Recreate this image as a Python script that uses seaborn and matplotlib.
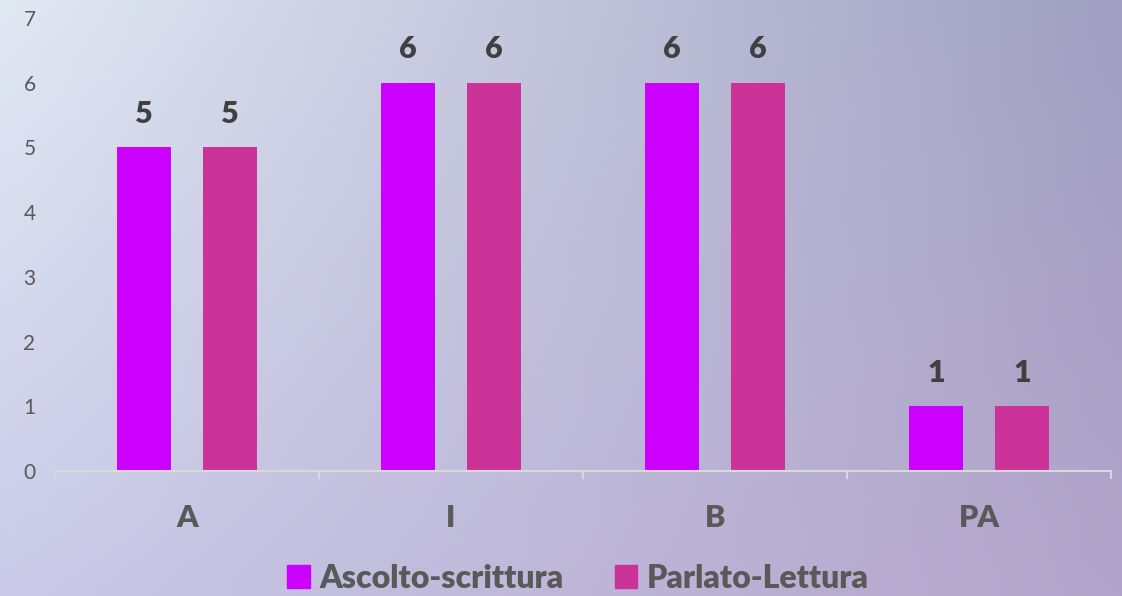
import numpy as np
import pandas as pd
import matplotlib
matplotlib.use("Agg")
import matplotlib.pyplot as plt
from matplotlib.ticker import FixedLocator
import seaborn as sns

categories = ["A", "I", "B", "PA"]
series_names = ["Ascolto-scrittura", "Parlato-Lettura"]
ascolto_scrittura = [5, 6, 6, 1]
parlato_lettura = [5, 6, 6, 1]
colors = ["#CC00FF", "#CC3399"]
y_ticks = [0, 1, 2, 3, 4, 5, 6, 7]

df = pd.DataFrame({
    "cat": categories * 2,
    "serie": [series_names[0]] * 4 + [series_names[1]] * 4,
    "val": ascolto_scrittura + parlato_lettura,
})

sns.set_theme(style="white")
plt.rcParams["font.family"] = ["Lato", "DejaVu Sans"]

fig = plt.figure(figsize=(11.22, 5.96), dpi=100)

# background gradient
bg = fig.add_axes([0, 0, 1, 1], zorder=-10)
tl = np.array([225, 233, 243]) / 255
tr = np.array([160, 159, 193]) / 255
bl = np.array([202, 202, 232]) / 255
br = np.array([178, 164, 202]) / 255
ny, nx = 60, 120
u = np.linspace(0, 1, nx)[None, :, None]
v = np.linspace(0, 1, ny)[:, None, None]
img = (1 - v) * ((1 - u) * tl + u * tr) + v * ((1 - u) * bl + u * br)
bg.imshow(img, aspect="auto", extent=[0, 1, 0, 1], interpolation="bicubic")
bg.axis("off")

ax = fig.add_axes([55 / 1122, 125 / 596, 1056 / 1122, 453 / 596])
ax.set_facecolor("none")

sns.barplot(data=df, x="cat", y="val", hue="serie", palette=colors,
            width=0.652, gap=0.362, ax=ax, legend=False, saturation=1,
            edgecolor="none", linewidth=0)

for cont in ax.containers:
    ax.bar_label(cont, padding=14, fontsize=22, fontweight="heavy", color="#404040")

ax.set_ylim(0, 7)
ax.set_xlim(-0.5, 3.5)
ax.set_yticks(y_ticks)
ax.set_yticklabels([str(t) for t in y_ticks], fontsize=15, color="#595959", fontweight="normal")
ax.tick_params(axis="y", length=0, pad=14)
ax.tick_params(axis="x", which="major", length=0, pad=24, labelsize=22, labelcolor="#595959")
for lab in ax.get_xticklabels():
    lab.set_fontweight("heavy")
ax.xaxis.set_minor_locator(FixedLocator([-0.5, 0.5, 1.5, 2.5, 3.5]))
ax.tick_params(axis="x", which="minor", length=6, width=1.5, color="#d9d9d9", bottom=True)
ax.set_xlabel("")
ax.set_ylabel("")
for s in ["top", "right", "left"]:
    ax.spines[s].set_visible(False)
ax.spines["bottom"].set_color("#d9d9d9")
ax.spines["bottom"].set_linewidth(1.5)
ax.grid(False)

handles = [plt.Rectangle((0, 0), 1, 1, color=c) for c in colors]
leg = fig.legend(handles, series_names, loc="center", bbox_to_anchor=(578 / 1122, 1 - 578 / 596),
                 ncol=2, frameon=False, fontsize=23, handlelength=0.7, handleheight=0.7,
                 handletextpad=0.3, columnspacing=1.6)
for t in leg.get_texts():
    t.set_fontweight("heavy")
    t.set_color("#595959")

fig.savefig("out.png", dpi=100)
